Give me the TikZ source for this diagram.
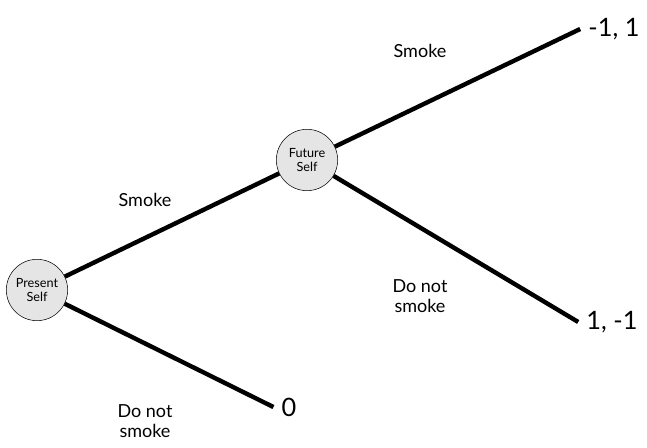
\documentclass[tikz,border=0pt]{standalone}
\usepackage{fontspec}
\setmainfont{Lato}
\usetikzlibrary{positioning}

\begin{document}
\begin{tikzpicture}[x=0.75pt, y=-0.75pt,
            player/.style={circle, draw, thin, fill=gray!20, minimum size=46pt, inner sep=0pt, align=center, font=\fontsize{9.5}{11}\selectfont},
            branch/.style={line width=3.3pt},
            move/.style={align=center, font=\fontsize{13.5}{15}\selectfont},
            payoff/.style={inner sep=6pt, font=\fontsize{19}{20}\selectfont}
        ]
            \useasboundingbox (0,0) rectangle (647,448);

            \node [player] (present) at (37,290) {Present\\Self};
            \node [player] (future) at (307,160) {Future\\Self};
            \node [payoff] (smokesmoke) at (614,29) {-1, 1};
            \node [payoff] (smokenot) at (612,322) {1, -1};
            \node [payoff] (notsmoke) at (289,407) {0};

            \draw [branch] (present) -- (future);
            \draw [branch] (future) -- (smokesmoke.west);
            \draw [branch] (future) -- (smokenot.west);
            \draw [branch] (present) -- (notsmoke.west);

            \node [move] (m1) at (145,200) {Smoke};
            \node [move] (m2) at (420,51) {Smoke};
            \node [move] (m3) at (420,296) {Do not\\smoke};
            \node [move] (m4) at (145,421) {Do not\\smoke};

        \end{tikzpicture}
\end{document}
